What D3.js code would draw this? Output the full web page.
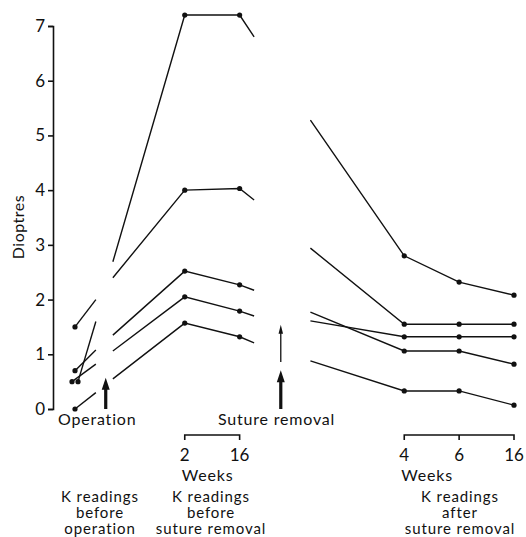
<!DOCTYPE html>
<html>
<head>
<meta charset="utf-8">
<script src="https://cdn.jsdelivr.net/npm/d3@7"></script>
<style>
  body { margin: 0; background: #fff; }
  text { font-family: Lato, "DejaVu Sans", sans-serif; fill: #111; }
</style>
</head>
<body>
<div id="chart-area"></div>
<script>
const W = 526, H = 537;

// time slots along the x axis (gaps included, they hold the arrows)
const slots = ["pre", "op", "b2", "b16", "gap1", "gap2", "a4", "a6", "a16"];

// K readings, one entry per eye, dioptres
const preOp       = [1.5, 0.5, 0.7, 0.5, 0.0];
const preOpBreak  = [2.0, 1.6, 1.08, 0.82, 0.3];   // where the line stops after pre-op
const postOpBreak = [2.69, 2.4, 1.35, 1.06, 0.55]; // where it starts again
const before2     = [7.2, 4.0, 2.52, 2.05, 1.57];
const before16    = [7.2, 4.03, 2.27, 1.79, 1.32];
const beforeBreak = [6.8, 3.82, 2.17, 1.70, 1.21];
const afterBreak  = [5.28, 2.94, 1.77, 1.61, 0.88];
const after4      = [2.8, 1.55, 1.06, 1.32, 0.33];
const after6      = [2.32, 1.55, 1.06, 1.32, 0.33];
const after16     = [2.08, 1.55, 0.82, 1.32, 0.07];

const yTicks = [0, 1, 2, 3, 4, 5, 6, 7];
const beforeWeeks = [["b2", "2"], ["b16", "16"]];
const afterWeeks = [["a4", "4"], ["a6", "6"], ["a16", "16"]];

var svg = d3.select("#chart-area").append("svg")
    .attr("width", W)
    .attr("height", H);

var x = d3.scalePoint().domain(slots).range([75, 514]);
var y = d3.scaleLinear().domain([0, 7]).range([409, 26]);

// x between two slots
var lerp = (a, b, t) => x(a) + t * (x(b) - x(a));

// y axis
var yAxis = d3.axisLeft(y).tickValues(yTicks).tickFormat(d3.format("d"))
    .tickSize(5).tickPadding(3);
var ya = svg.append("g")
    .attr("transform", "translate(53,0)")
    .call(yAxis);
ya.selectAll("path, line").attr("stroke", "#111").attr("stroke-width", 1.6);
ya.selectAll("text").attr("font-size", 17).attr("font-family", "Lato, sans-serif").attr("fill", "#111");

svg.append("text")
    .attr("transform", "translate(24,227) rotate(-90)")
    .attr("text-anchor", "middle")
    .attr("font-size", 16)
    .attr("letter-spacing", 0.5)
    .text("Dioptres");

// small offset for eyes that share the same pre-op reading
var count = {}, used = {};
preOp.forEach(v => count[v] = (count[v] || 0) + 1);
var preDx = preOp.map(function(v) {
    if (count[v] < 2) return 0;
    used[v] = (used[v] || 0) + 1;
    return used[v] === 1 ? 3 : -3;
});

var line = d3.line().x(d => d[0]).y(d => y(d[1]));

var segs = [];
var dots = [];
preOp.forEach(function(v, i) {
    segs.push([[x("pre") + preDx[i], v], [lerp("pre", "b2", 0.19), preOpBreak[i]]]);
    segs.push([[lerp("pre", "b2", 0.345), postOpBreak[i]],
               [x("b2"), before2[i]], [x("b16"), before16[i]],
               [lerp("b16", "a4", 0.088), beforeBreak[i]]]);
    segs.push([[lerp("b16", "a4", 0.43), afterBreak[i]],
               [x("a4"), after4[i]], [x("a6"), after6[i]], [x("a16"), after16[i]]]);
    dots.push([x("pre") + preDx[i], v], [x("b2"), before2[i]], [x("b16"), before16[i]],
              [x("a4"), after4[i]], [x("a6"), after6[i]], [x("a16"), after16[i]]);
});

svg.selectAll("path.seg")
    .data(segs)
    .enter().append("path")
    .attr("class", "seg")
    .attr("d", line)
    .attr("fill", "none")
    .attr("stroke", "#111")
    .attr("stroke-width", 1.4);

svg.selectAll("circle")
    .data(dots)
    .enter().append("circle")
    .attr("cx", d => d[0])
    .attr("cy", d => y(d[1]))
    .attr("r", 2.6)
    .attr("fill", "#111");

// arrows
function arrow(cx, tip, base, shaft, headW, headL) {
    var yt = y(tip), yb = y(base);
    svg.append("path")
        .attr("d", `M${cx - shaft / 2},${yb}V${yt + headL}H${cx - headW / 2}L${cx},${yt}L${cx + headW / 2},${yt + headL}H${cx + shaft / 2}V${yb}Z`)
        .attr("fill", "#111");
}
arrow(lerp("pre", "b2", 0.28), 0.57, 0.0, 3.2, 8, 12);
arrow(lerp("b16", "a4", 0.25), 1.54, 0.86, 1.3, 4.5, 9);
arrow(lerp("b16", "a4", 0.25), 0.71, 0.0, 3.2, 8, 12);

// event labels
svg.append("text").attr("x", 58).attr("y", 425).attr("font-size", 16)
    .attr("letter-spacing", 0.8).text("Operation");
svg.append("text").attr("x", 218).attr("y", 425).attr("font-size", 16)
    .attr("letter-spacing", 0.8).text("Suture removal");

// week brackets
function bracket(ticks) {
    var xs = ticks.map(t => x(t[0]));
    var g = svg.append("g");
    g.append("path")
        .attr("d", `M${xs[0]},440V435H${xs[xs.length - 1]}V440` +
            xs.slice(1, -1).map(v => `M${v},435V440`).join(""))
        .attr("fill", "none").attr("stroke", "#111").attr("stroke-width", 1.6);
    g.selectAll("text.wk")
        .data(ticks)
        .enter().append("text")
        .attr("class", "wk")
        .attr("x", d => x(d[0]))
        .attr("y", 461)
        .attr("text-anchor", "middle")
        .attr("font-size", 17)
        .text(d => d[1]);
    g.append("text")
        .attr("x", xs[0] - 3)
        .attr("y", 481)
        .attr("font-size", 16)
        .attr("letter-spacing", 0.8)
        .text("Weeks");
}
bracket(beforeWeeks);
bracket(afterWeeks);

// group captions
function caption(cx, lines) {
    svg.append("text")
        .attr("text-anchor", "middle")
        .attr("font-size", 15)
        .attr("letter-spacing", 0.9)
        .selectAll("tspan")
        .data(lines)
        .enter().append("tspan")
        .attr("x", cx)
        .attr("y", (d, i) => 502 + i * 16)
        .text(d => d);
}
caption(100, ["K readings", "before", "operation"]);
caption(211, ["K readings", "before", "suture removal"]);
caption(460, ["K readings", "after", "suture removal"]);
</script>
</body>
</html>
